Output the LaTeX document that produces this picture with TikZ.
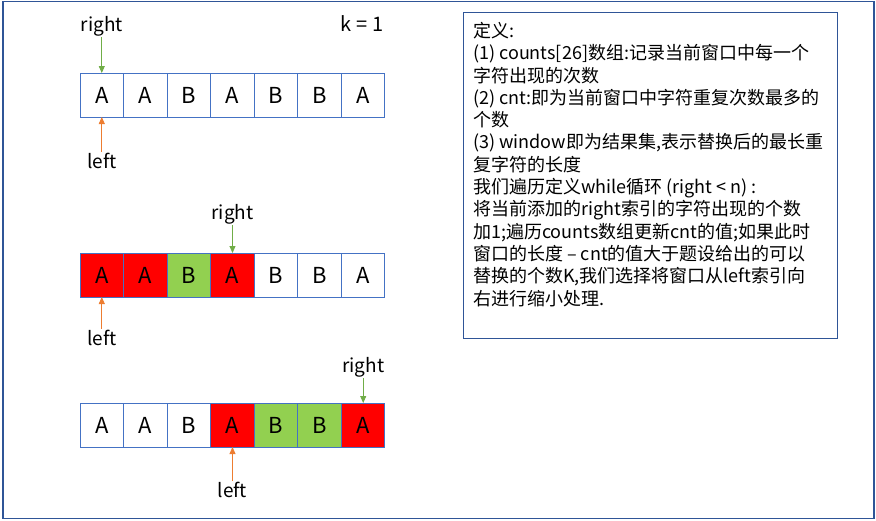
\documentclass[tikz,border=0pt]{standalone}
\usepackage{fontspec}
\setmainfont{Noto Sans CJK SC}
\usetikzlibrary{arrows.meta,positioning}
\definecolor{cellblue}{HTML}{4472C4}
\definecolor{framebl}{HTML}{2F5597}
\definecolor{mkred}{HTML}{FF0000}
\definecolor{mkgreen}{HTML}{92D050}
\definecolor{arrgreen}{HTML}{70AD47}
\definecolor{arrorange}{HTML}{ED7D31}

\begin{document}
\begin{tikzpicture}[x=1pt,y=-1pt,
  cell/.style={draw=cellblue,line width=1pt,minimum width=43.57pt,minimum height=44pt,anchor=west,inner sep=0pt,outer sep=0pt,font=\fontsize{22}{22}\selectfont},
  lbl/.style={font=\fontsize{19}{19}\selectfont,inner sep=1pt},
  rarrow/.style={-{Triangle[length=7pt,width=6pt]},arrgreen,line width=0.8pt},
  larrow/.style={-{Triangle[length=7pt,width=6pt]},arrorange,line width=0.8pt}]
\useasboundingbox (0,0) rectangle (876,520);
\draw[framebl,line width=1.5pt] (3,1.5) rectangle (874,518.5);

% row 1
\foreach \ch/\fc [count=\i] in {A/white,A/white,B/white,A/white,B/white,B/white,A/white}
  \node[cell,fill=\fc] (a\i) at ({80+(\i-1)*43.57},95) {\ch};
\node[lbl,above=36pt of a1] (r1) {right};
\node[lbl,below=35pt of a1] (l1) {left};
\draw[rarrow] (r1) -- (a1);
\draw[larrow] (l1) -- (a1);
\node[font=\fontsize{20}{20}\selectfont] (k) at (362,24) {k = 1};

% row 2
\foreach \ch/\fc [count=\i] in {A/mkred,A/mkred,B/mkgreen,A/mkred,B/white,B/white,A/white}
  \node[cell,fill=\fc] (b\i) at ({80+(\i-1)*43.57},275) {\ch};
\node[lbl,above=28pt of b4] (r2) {right};
\node[lbl,below=32pt of b1] (l2) {left};
\draw[rarrow] (r2) -- (b4);
\draw[larrow] (l2) -- (b1);

% row 3
\foreach \ch/\fc [count=\i] in {A/white,A/white,B/white,A/mkred,B/mkgreen,B/mkgreen,A/mkred}
  \node[cell,fill=\fc] (c\i) at ({80+(\i-1)*43.57},425) {\ch};
\node[lbl,above=25pt of c7] (r3) {right};
\node[lbl,below=34pt of c4] (l3) {left};
\draw[rarrow] (r3) -- (c7);
\draw[larrow] (l3) -- (c4);

% explanation
\node[draw=framebl,line width=1pt,minimum width=374pt,minimum height=326pt,anchor=north west,inner sep=0pt] (box) at (463,12) {};
\node[anchor=north west,align=left,inner sep=0pt,font=\fontsize{18}{22.3}\selectfont] (txt) at ([shift={(10,10)}]box.north west)
  {定义:\\
   (1) counts[26]数组:记录当前窗口中每一个\\
   字符出现的次数\\
   (2) cnt:即为当前窗口中字符重复次数最多的\\
   个数\\
   (3) window即为结果集,表示替换后的最长重\\
   复字符的长度\\
   我们遍历定义while循环 (right < n) :\\
   将当前添加的right索引的字符出现的个数\\
   加1;遍历counts数组更新cnt的值;如果此时\\
   窗口的长度 – cnt的值大于题设给出的可以\\
   替换的个数K,我们选择将窗口从left索引向\\
   右进行缩小处理.};
\end{tikzpicture}
\end{document}
